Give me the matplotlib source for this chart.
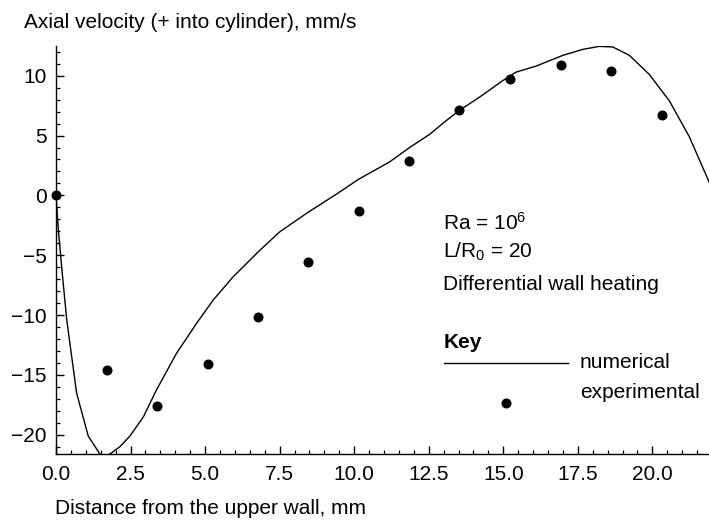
import matplotlib
matplotlib.use('Agg')
import matplotlib.pyplot as plt
from matplotlib.ticker import MultipleLocator, FormatStrFormatter

plt.rcParams['font.family'] = ['Liberation Sans', 'DejaVu Sans']
plt.rcParams['mathtext.fontset'] = 'custom'
plt.rcParams['mathtext.rm'] = 'Liberation Sans'

# numerical solution, axial velocity vs distance from upper wall
num_x = [0.0, 0.08, 0.19, 0.36, 0.69, 1.08, 1.47, 1.64, 1.81, 2.14, 2.48, 2.93, 3.37,
         4.04, 4.71, 5.27, 5.94, 6.83, 7.50, 8.40, 9.40, 10.15, 11.19, 11.86, 12.53,
         13.09, 13.53, 14.20, 14.99, 15.43, 16.10, 17.00, 17.67, 18.22, 18.67, 19.23,
         19.90, 20.57, 21.24, 21.88, 22.2]
num_v = [0.0, -2.9, -6.0, -10.4, -16.5, -20.1, -21.6, -21.9, -21.6, -21.0, -20.1, -18.5,
         -16.25, -13.2, -10.7, -8.75, -6.8, -4.6, -3.05, -1.5, 0.1, 1.35, 2.8, 4.0, 5.1,
         6.25, 7.1, 8.2, 9.6, 10.3, 10.8, 11.7, 12.2, 12.45, 12.4, 11.7, 10.1, 7.9, 4.9,
         1.25, -0.6]

# experimental measurements
exp_x = [0.0, 1.70, 3.39, 5.10, 6.78, 8.46, 10.15, 11.84, 13.53, 15.22, 16.92, 18.63, 20.32]
exp_v = [0.0, -14.6, -17.6, -14.1, -10.2, -5.6, -1.3, 2.9, 7.1, 9.7, 10.9, 10.4, 6.7]

FS = 15

fig = plt.figure(figsize=(7.09, 5.20), dpi=100)
ax = fig.add_axes([0.079, 0.127, 0.921, 0.785])

ax.plot(num_x, num_v, color='black', linewidth=1.0)
ax.plot(exp_x, exp_v, 'o', color='black', markersize=6.2, clip_on=False)

ax.set_xlim(0, 21.9)
ax.set_ylim(-21.6, 12.5)
ax.xaxis.set_major_locator(MultipleLocator(2.5))
ax.xaxis.set_minor_locator(MultipleLocator(0.5))
ax.xaxis.set_major_formatter(FormatStrFormatter('%.1f'))
ax.yaxis.set_major_locator(MultipleLocator(5))
ax.yaxis.set_minor_locator(MultipleLocator(1))

for side in ['top', 'right']:
    ax.spines[side].set_visible(False)
for side in ['left', 'bottom']:
    ax.spines[side].set_linewidth(1.0)

ax.tick_params(which='major', direction='in', length=5.5, width=1.0, labelsize=FS)
ax.tick_params(which='minor', direction='in', length=3.2, width=0.9)
ax.tick_params(axis='y', which='major', pad=6.5)
ax.tick_params(axis='x', which='major', pad=8)

fig.text(24 / 709, 1 - 28 / 520, 'Axial velocity (+ into cylinder), mm/s',
         fontsize=FS, ha='left', va='baseline')
fig.text(55 / 709, 1 - 514 / 520, 'Distance from the upper wall, mm',
         fontsize=FS, ha='left', va='baseline')

# parameters and key
tkw = dict(transform=ax.transAxes, fontsize=FS, ha='left', va='baseline')
ax.text(0.593, 0.549, 'Ra = 10$\\mathregular{^6}$', **tkw)
ax.text(0.593, 0.480, 'L/R$\\mathregular{_0}$ = 20', **tkw)
ax.text(0.593, 0.402, 'Differential wall heating', **tkw)
ax.text(0.593, 0.260, 'Key', fontweight='bold', **tkw)
ax.plot([0.594, 0.784], [0.223, 0.223], color='black', linewidth=1.0,
        transform=ax.transAxes)
ax.text(0.802, 0.211, 'numerical', **tkw)
ax.text(0.802, 0.137, 'experimental', **tkw)
ax.plot([0.689], [0.125], 'o', color='black', markersize=6.2, transform=ax.transAxes)

fig.savefig('out.png', dpi=100)
